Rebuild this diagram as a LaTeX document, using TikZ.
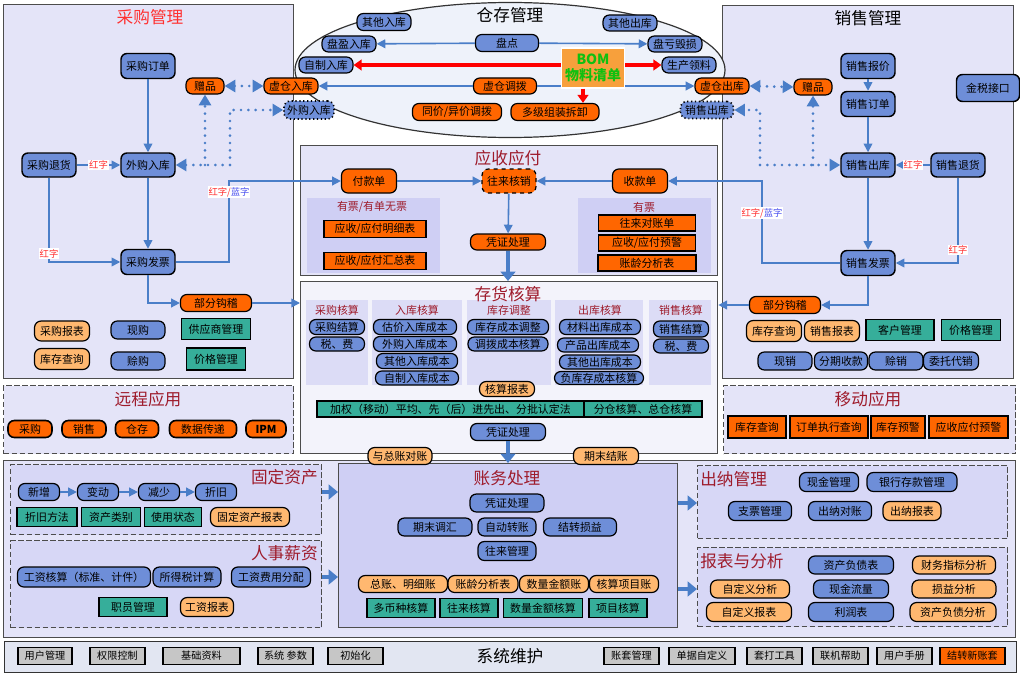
\documentclass[tikz,border=0pt]{standalone}
\usepackage{fontspec}
\setmainfont{Noto Sans CJK SC}
\usetikzlibrary{arrows.meta,calc,shapes.geometric}
\definecolor{nblue}{HTML}{6E8ED8}
\definecolor{norg}{HTML}{FF6600}
\definecolor{nlo}{HTML}{FFB870}
\definecolor{nteal}{HTML}{36AE9A}
\definecolor{abl}{HTML}{4A7EC8}
\definecolor{dred}{HTML}{9E1B2B}
\definecolor{pbg}{HTML}{E4E4F8}
\definecolor{pbg2}{HTML}{CFCFF4}
\definecolor{ibg}{HTML}{F3F3FB}
\definecolor{icol}{HTML}{DCDCF6}
\definecolor{ebg}{HTML}{EEF2FA}
\definecolor{sbg}{HTML}{E2E6F2}
\definecolor{gbtn}{HTML}{C6C6C6}
\definecolor{bomc}{HTML}{F7A03C}
\definecolor{bomt}{HTML}{10C010}
\definecolor{lred}{HTML}{FF3030}
\definecolor{lblue}{HTML}{4A50F0}
\newcommand\fsn{\fontsize{8.2}{9.5}\selectfont}
\newcommand\fss{\fontsize{7.6}{9}\selectfont}
\newcommand\fst{\fontsize{12.5}{14}\selectfont}
\newcommand\fsl{\fontsize{7}{8}\selectfont}
\newcommand\mkn[6]{\node[#1, minimum width=#4*0.75pt, minimum height=#5*0.75pt] (#2) at (#3) {#6};}
\newcommand\pnl[6]{\node[#1, anchor=north west, inner sep=0pt, minimum width=(#5-#3)*0.75pt, minimum height=(#6-#4)*0.75pt] (#2) at (#3,#4) {};}
\tikzset{
  nd/.style={draw=black, line width=0.9pt, inner sep=0pt, align=center, font=\fsn, text=black},
  bx/.style={nd, fill=nblue, rounded corners=4.5pt, line width=1.1pt},
  bp/.style={nd, fill=nblue, rounded corners=4.8pt},
  bdot/.style={nd, fill=nblue, rounded corners=4.8pt, dotted, line width=1.2pt},
  op/.style={nd, fill=norg, rounded corners=4.8pt},
  lo/.style={nd, fill=nlo, rounded corners=5pt},
  tl/.style={nd, fill=nteal, line width=1.2pt},
  orc/.style={nd, fill=norg},
  gb/.style={nd, fill=gbtn, line width=1pt, font=\fss},
  panel/.style={draw=black!70, line width=1pt, fill=pbg},
  dpanel/.style={draw=black!70, line width=1pt, fill=pbg, dash pattern=on 4pt off 2pt},
  dpanel2/.style={draw=black!70, line width=1pt, fill=pbg2!60!pbg, dash pattern=on 4pt off 2pt},
  subp/.style={draw=none, fill=pbg2},
  ipanel/.style={draw=black!70, line width=1pt, fill=ibg},
  icolst/.style={draw=none, fill=icol},
  accst/.style={draw=black!70, line width=1pt, fill=pbg2},
  syspanel/.style={draw=black!80, line width=1pt, fill=sbg},
  ttl/.style={font=\fst, text=dred, inner sep=0pt},
  subt/.style={font=\fsn, text=dred, inner sep=0pt},
  arr/.style={draw=abl, line width=1.2pt, -{Triangle[length=6.5pt,width=6.5pt]}},
  tarr/.style={draw=abl, line width=3pt, -{Triangle[length=7pt,width=11pt]}},
  dots/.style={draw=abl, line width=2.2pt, line cap=round, dash pattern=on 0pt off 5.5pt},
  dtip/.style={-{Triangle[length=8pt,width=9pt]}},
  ddtip/.style={{Triangle[length=8pt,width=9pt]}-{Triangle[length=8pt,width=9pt]}},
  redarr/.style={draw=red, line width=2.4pt, -{Triangle[length=6pt,width=8pt]}},
  rlab/.style={fill=white, inner sep=0.6pt, font=\fsl, text=lred},
}
\begin{document}
\begin{tikzpicture}[x=0.75pt,y=-0.75pt]
\fill[white] (0,0) rectangle (1020,674);
\useasboundingbox (0,0) rectangle (1020,674);
% ---------- panels ----------
\pnl{panel}{pp}{3}{4}{293}{378}
\pnl{panel}{sp}{722}{5}{1013}{378}
\node[ellipse, draw=black!80, line width=0.9pt, fill=ebg, minimum width=430*0.75pt, minimum height=135*0.75pt, inner sep=0pt] (wh) at (510,70) {};
\pnl{panel}{arp}{300}{145}{717}{275}
\pnl{subp}{arl}{307}{198}{440}{273}
\pnl{subp}{arr}{578}{198}{711}{273}
\pnl{ipanel}{invp}{300}{281}{717}{453}
\pnl{icolst}{ic1}{306}{300}{368}{385}
\pnl{icolst}{ic2}{372}{300}{462}{385}
\pnl{icolst}{ic3}{467}{300}{551}{385}
\pnl{icolst}{ic4}{555}{300}{643}{385}
\pnl{icolst}{ic5}{649}{300}{711}{385}
\pnl{dpanel}{remp}{3}{385}{293}{453}
\pnl{dpanel}{mobp}{723}{385}{1015}{453}
\pnl{panel}{botp}{3}{460}{1015}{637}
\pnl{dpanel2}{fap}{10}{464}{321}{534}
\pnl{dpanel2}{hrp}{10}{540}{321}{627}
\pnl{accst}{acc}{338}{463}{677}{627}
\pnl{dpanel2}{cnp}{697}{465}{1007}{538}
\pnl{dpanel2}{rap}{697}{547}{1007}{626}
\pnl{syspanel}{sysp}{4}{641}{1016}{672}
% ---------- titles ----------
\node[ttl, text=lred] (tp) at (150,17) {采购管理};
\node[ttl, text=black] (tw) at (510,15) {仓存管理};
\node[ttl, text=black] (ts) at (868,18) {销售管理};
\node[ttl] (tar) at (508,158) {应收应付};
\node[ttl] (tinv) at (508,294) {存货核算};
\node[ttl] (trem) at (148,399) {远程应用};
\node[ttl] (tmob) at (868,399) {移动应用};
\node[ttl, anchor=east] (tfa) at (318,477) {固定资产};
\node[ttl, anchor=east] (thr) at (318,553) {人事薪资};
\node[ttl] (tacc) at (507,478) {账务处理};
\node[ttl, anchor=west] (tcn) at (700,479) {出纳管理};
\node[ttl, anchor=west] (tra) at (700,561) {报表与分析};
\node[ttl, text=black] (tsys) at (510,656) {系统维护};
\node[subt] (sarl) at (372,207) {有票/有单无票};
\node[subt] (sarr) at (644,207) {有票};
\node[subt] (sc1) at (337,310) {采购核算};
\node[subt] (sc2) at (417,310) {入库核算};
\node[subt] (sc3) at (509,310) {库存调整};
\node[subt] (sc4) at (600,310) {出库核算};
\node[subt] (sc5) at (681,310) {销售核算};
% ---------- purchase ----------
\mkn{bx}{po}{148,66}{54}{25}{采购订单}
\mkn{op}{pgift}{205,86}{38}{16}{赠品}
\mkn{op}{vin}{291,86}{54}{16}{虚仓入库}
\mkn{bdot}{wgdot}{309,110}{50}{18}{外购入库}
\mkn{bx}{pret}{49,165}{54}{24}{采购退货}
\mkn{bx}{pin}{148,165}{54}{24}{外购入库}
\mkn{bx}{pinv}{148,262}{54}{25}{采购发票}
\mkn{op}{pgj}{216,303}{71}{17}{部分钩稽}
\mkn{lo}{prep}{62,331}{55}{20}{采购报表}
\mkn{lo}{pstk}{62,359}{55}{21}{库存查询}
\mkn{bp}{pxg}{138,330}{54}{18}{现购}
\mkn{bp}{psg}{138,361}{54}{18}{赊购}
\mkn{tl}{psup}{216,329}{69}{21}{供应商管理}
\mkn{tl}{ppri}{216,359}{59}{22}{价格管理}
% ---------- warehouse ----------
\mkn{bp}{qtin}{384,22}{54}{17}{其他入库}
\mkn{bp}{pyin}{349,44}{54}{16}{盘盈入库}
\mkn{bp}{pd}{507,43}{63}{17}{盘点}
\mkn{bp}{qtout}{630,23}{54}{16}{其他出库}
\mkn{bp}{pkhs}{675,44}{54}{16}{盘亏毁损}
\mkn{bp}{zzin}{326,65}{54}{16}{自制入库}
\mkn{bp}{scll}{689,65}{54}{16}{生产领料}
\mkn{op}{xcdb}{505,86}{63}{16}{虚仓调拨}
\mkn{op}{xcout}{722,86}{54}{16}{虚仓出库}
\mkn{op}{tjdb}{457,112}{89}{17}{同价/异价调拨}
\mkn{op}{djzz}{555,112}{88}{17}{多级组装拆卸}
\mkn{bdot}{xsdot}{707,110}{53}{17}{销售出库}
\draw[arr] (pd) -- (pyin);
\draw[arr] (pd) -- (pkhs);
\draw[arr] (xcdb) -- (vin);
\draw[arr] (xcdb) -- (xcout);
\node[draw=white, line width=0.8pt, fill=bomc, minimum width=63*0.75pt, minimum height=40*0.75pt, inner sep=0pt, align=center, text=bomt, font=\fontsize{10.5}{12.5}\selectfont\bfseries] (bom) at (593,68) {BOM\\物料清单};
\draw[redarr] (bom.west |- zzin) -- (zzin);
\draw[redarr] (bom.east |- scll) -- (scll);
\coordinate (bomd) at ($(bom.south)+(-10,0)$);
\draw[redarr] (bomd) -- (bomd |- djzz.north);
% ---------- sales ----------
\mkn{bx}{sq}{868,66}{54}{25}{销售报价}
\mkn{bx}{so}{868,104}{54}{25}{销售订单}
\mkn{bx}{jsjk}{988,88}{63}{27}{金税接口}
\mkn{op}{sgift}{813,87}{38}{16}{赠品}
\mkn{bx}{sout}{868,165}{54}{24}{销售出库}
\mkn{bx}{sret}{958,165}{54}{24}{销售退货}
\mkn{bx}{sinv}{868,263}{54}{25}{销售发票}
\mkn{op}{sgj}{785,305}{71}{17}{部分钩稽}
\mkn{lo}{sstk}{774,331}{55}{21}{库存查询}
\mkn{lo}{srep}{832,331}{55}{21}{销售报表}
\mkn{tl}{cust}{900,330}{68}{21}{客户管理}
\mkn{tl}{spri}{971,330}{59}{21}{价格管理}
\mkn{bp}{xx}{785,361}{54}{18}{现销}
\mkn{bp}{fqsk}{841,361}{53}{18}{分期收款}
\mkn{bp}{sx}{896,361}{54}{18}{赊销}
\mkn{bp}{wtdx}{951,361}{55}{18}{委托代销}
% ---------- AR/AP ----------
\mkn{op}{fkd}{369,181}{55}{24}{付款单}
\mkn{op, dashed}{wlhx}{509,181}{54}{24}{往来核销}
\mkn{op}{skd}{640,181}{55}{24}{收款单}
\mkn{orc}{arl1}{375,229}{102}{17}{应收/应付明细表}
\mkn{orc}{arl2}{375,261}{102}{17}{应收/应付汇总表}
\mkn{orc}{arr1}{647,223}{97}{16}{往来对账单}
\mkn{orc}{arr2}{647,243}{97}{16}{应收/应付预警}
\mkn{orc}{arr3}{647,263}{98}{16}{账龄分析表}
\mkn{op}{arpz}{508,242}{75}{16}{凭证处理}
% ---------- inventory ----------
\mkn{bp}{i1}{337,327}{55}{15}{采购结算}
\mkn{bp}{i2}{337,344}{55}{14}{税、费}
\mkn{bp}{i3}{415,327}{83}{15}{估价入库成本}
\mkn{bp}{i4}{415,344}{83}{15}{外购入库成本}
\mkn{bp}{i5}{417,361}{81}{15}{其他入库成本}
\mkn{bp}{i6}{417,378}{83}{14}{自制入库成本}
\mkn{bp}{i7}{508,327}{81}{15}{库存成本调整}
\mkn{bp}{i8}{508,344}{80}{14}{调拨成本核算}
\mkn{bp}{i9}{600,327}{81}{15}{材料出库成本}
\mkn{bp}{i10}{598,345}{81}{14}{产品出库成本}
\mkn{bp}{i11}{600,362}{81}{14}{其他出库成本}
\mkn{bp}{i12}{599,378}{89}{13}{负库存成本核算}
\mkn{bp}{i13}{681,329}{55}{16}{销售结算}
\mkn{bp}{i14}{681,346}{55}{14}{税、费}
\mkn{lo}{hsbb}{507,389}{55}{15}{核算报表}
\mkn{tl}{bar1}{450.5,409}{267}{16}{加权（移动）平均、先（后）进先出、分批认定法}
\mkn{tl}{bar2}{643,409}{118}{16}{分仓核算、总仓核算}
\mkn{bp}{ipz}{508,432}{75}{17}{凭证处理}
\mkn{lo}{dz}{400,456}{64}{17}{与总账对账}
\mkn{lo}{qmjz}{606,456}{65}{17}{期末结账}
% ---------- remote / mobile ----------
\mkn{op, line width=1.2pt}{r1}{30,429}{44}{17}{采购}
\mkn{op, line width=1.2pt}{r2}{84,429}{44}{17}{销售}
\mkn{op, line width=1.2pt}{r3}{137,429}{43}{17}{仓存}
\mkn{op, line width=1.2pt}{r4}{203,429}{67}{17}{数据传递}
\mkn{op, line width=1.2pt}{r5}{266,429}{40}{17}{\bfseries IPM}
\mkn{orc, line width=1.2pt}{m1}{757,427}{58}{22}{库存查询}
\mkn{orc, line width=1.2pt}{m2}{829,427}{78}{22}{订单执行查询}
\mkn{orc, line width=1.2pt}{m3}{898,427}{54}{22}{库存预警}
\mkn{orc, line width=1.2pt}{m4}{968.5,427}{79}{22}{应收应付预警}
% ---------- fixed assets / HR ----------
\mkn{bp}{fa1}{39,492}{41}{17}{新增}
\mkn{bp}{fa2}{98,492}{41}{17}{变动}
\mkn{bp}{fa3}{159,492}{41}{17}{减少}
\mkn{bp}{fa4}{216,492}{41}{17}{折旧}
\mkn{tl}{fa5}{47,517}{60}{19}{折旧方法}
\mkn{tl}{fa6}{111,517}{59}{19}{资产类别}
\mkn{tl}{fa7}{173,517}{57}{19}{使用状态}
\mkn{lo}{fa8}{250,517}{79}{19}{固定资产报表}
\mkn{bp}{hr1}{84,577}{133}{20}{工资核算（标准、计件）}
\mkn{bp}{hr2}{187,577}{68}{20}{所得税计算}
\mkn{bp}{hr3}{271,577}{79}{20}{工资费用分配}
\mkn{tl}{hr4}{133,607}{68}{19}{职员管理}
\mkn{lo}{hr5}{207,607}{53}{19}{工资报表}
% ---------- accounting ----------
\mkn{bp}{a1}{507,503}{74}{18}{凭证处理}
\mkn{bp}{a2}{435,527}{74}{18}{期末调汇}
\mkn{bp}{a3}{507,527}{58}{18}{自动转账}
\mkn{bp}{a4}{580,527}{73}{18}{结转损益}
\mkn{bp}{a5}{507,551}{58}{19}{往来管理}
\mkn{lo}{a6}{403,584}{89}{17}{总账、明细账}
\mkn{lo}{a7}{483,584}{70}{17}{账龄分析表}
\mkn{lo}{a8}{554,584}{69}{17}{数量金额账}
\mkn{lo}{a9}{624,584}{69}{17}{核算项目账}
\mkn{tl}{a10}{401,608}{68}{19}{多币种核算}
\mkn{tl}{a11}{469,608}{58}{19}{往来核算}
\mkn{tl}{a12}{543,608}{79}{19}{数量金额核算}
\mkn{tl}{a13}{618,608}{58}{19}{项目核算}
% ---------- cashier / reports ----------
\mkn{bp}{c1}{829,482}{59}{19}{现金管理}
\mkn{bp}{c2}{912,482}{90}{19}{银行存款管理}
\mkn{bp}{c3}{760,511}{63}{19}{支票管理}
\mkn{bp}{c4}{840,511}{63}{19}{出纳对账}
\mkn{lo}{c5}{912,511}{58}{19}{出纳报表}
\mkn{bp}{rp1}{851,565}{85}{18}{资产负债表}
\mkn{bp}{rp2}{851,589}{75}{18}{现金流量}
\mkn{bp}{rp3}{851,612}{85}{19}{利润表}
\mkn{lo}{rp4}{750,589}{79}{18}{自定义分析}
\mkn{lo}{rp5}{749,612}{85}{19}{自定义报表}
\mkn{lo}{rp6}{954,565}{83}{18}{财务指标分析}
\mkn{lo}{rp7}{954,589}{84}{18}{损益分析}
\mkn{lo}{rp8}{953,612}{86}{19}{资产负债分析}
% ---------- system ----------
\mkn{gb}{y1}{45,656}{54}{17}{用户管理}
\mkn{gb}{y2}{117.5,656}{55}{17}{权限控制}
\mkn{gb}{y3}{201.5,656}{77}{17}{基础资料}
\mkn{gb}{y4}{285.5,656}{55}{17}{系统 参数}
\mkn{gb}{y5}{355.5,656}{55}{17}{初始化}
\mkn{gb}{y6}{631.5,656}{55}{17}{账套管理}
\mkn{gb}{y7}{702,656}{66}{17}{单据自定义}
\mkn{gb}{y8}{774.5,656}{55}{17}{套打工具}
\mkn{gb}{y9}{840.5,656}{55}{17}{联机帮助}
\mkn{gb}{y10}{904.5,656}{55}{17}{用户手册}
\mkn{gb, fill=norg}{y11}{972.5,656}{65}{17}{结转新账套}
% ---------- purchase connectors ----------
\draw[arr] (po) -- (pin);
\draw[arr] (pret) -- node[rlab] (lr1) {红字} (pin);
\draw[arr] (pin) -- (pinv);
\draw[arr] (pret.south) -- node[rlab, pos=0.9] (lr2) {红字} (pret.south |- pinv.west) -- (pinv.west);
\coordinate (pb1) at (229,262);
\draw[arr] (pinv.east) -- (pb1) |- (fkd.west);
\node[rlab] (lr3) at (229,192) {红字/\textcolor{lblue}{蓝字}};
\draw[arr] (pinv.south) |- (pgj.west);
\draw[arr] (pgj.east) -- (invp.west |- pgj.east);
\coordinate (pj1) at (230,165);
\draw[dots, dtip] (pj1) -- (pj1 |- wgdot.west) -- (wgdot.west);
\draw[dots, dtip] (pj1) -- (pin.east);
\draw[dots, dtip] (pgift.south |- pj1) -- (pgift.south);
\draw[dots, ddtip] (pgift.east) -- (vin.west);
% ---------- sales connectors ----------
\draw[arr] (sq) -- (so);
\draw[arr] (so) -- (sout);
\draw[arr] (sret) -- node[rlab] (lr4) {红字} (sout);
\draw[arr] (sout) -- (sinv);
\draw[arr] (sret.south) -- node[rlab, pos=0.85] (lr5) {红字} (sret.south |- sinv.east) -- (sinv.east);
\coordinate (sb1) at (762,263);
\draw[arr] (sinv.west) -- (sb1) |- (skd.east);
\node[rlab] (lr6) at (762,213) {红字/\textcolor{lblue}{蓝字}};
\draw[arr] (sinv.south) |- (sgj.east);
\draw[arr] (sgj.west) -- (invp.east |- sgj.west);
\coordinate (sj1) at (760,165);
\draw[dots, dtip] (sj1) -- (sj1 |- xsdot.east) -- (xsdot.east);
\draw[dots, dtip] (sj1) -- (sout.west);
\draw[dots, dtip] (sgift.south |- sout.west) -- (sgift.south);
\draw[dots, ddtip] (xcout.east) -- (sgift.west);
% ---------- AR/AP and inventory connectors ----------
\draw[arr] (fkd) -- (wlhx);
\draw[arr] (skd) -- (wlhx);
\draw[arr] (wlhx) -- (arpz);
\draw[tarr] (arpz.south) -- (arpz.south |- invp.north);
\draw[tarr] (ipz.south) -- (ipz.south |- acc.north);
% ---------- bottom connectors ----------
\draw[arr] (fa1) -- (fa2);
\draw[arr] (fa2) -- (fa3);
\draw[arr] (fa3) -- (fa4);
\draw[tarr] (fa4 -| fap.east) -- (fa4 -| acc.west);
\draw[tarr] (hr3 -| hrp.east) -- (hr3 -| acc.west);
\draw[tarr] (a1 -| acc.east) -- (a1 -| cnp.west);
\draw[tarr] (rp2 -| acc.east) -- (rp2 -| rap.west);
\end{tikzpicture}
\end{document}
